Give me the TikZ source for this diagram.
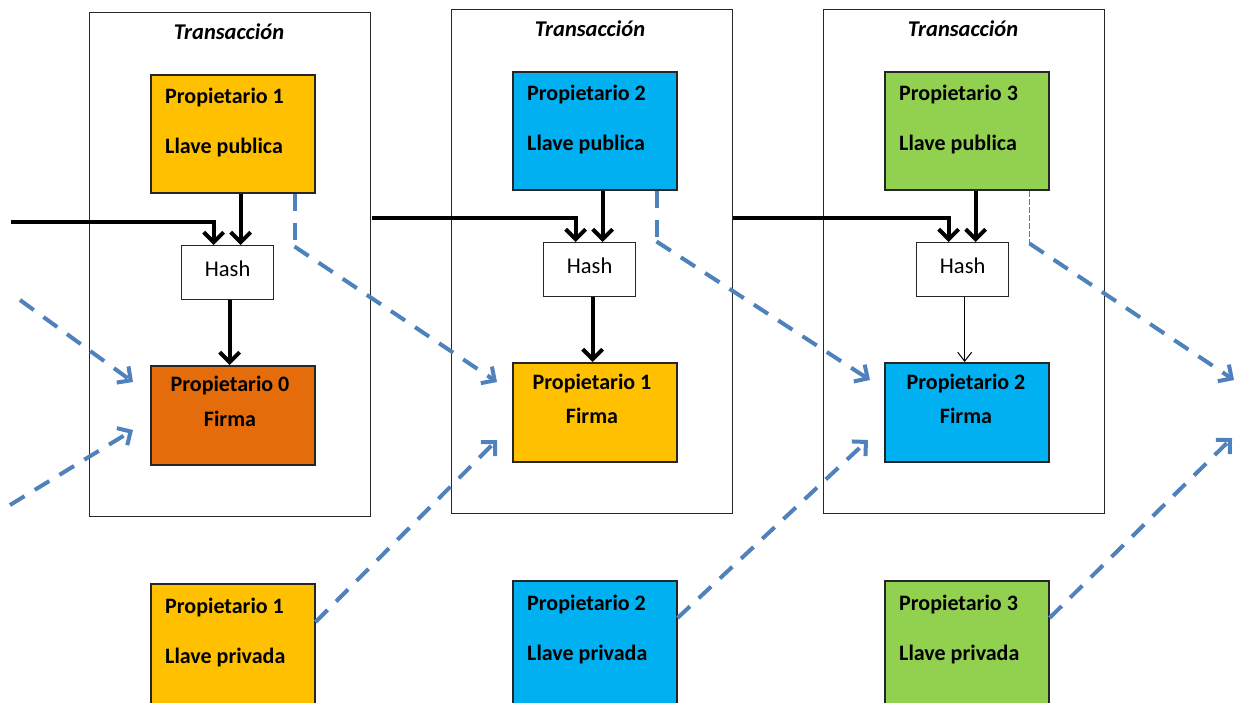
\documentclass[tikz,border=0pt]{standalone}
\usepackage{fontspec}
\setmainfont{Carlito}
\usetikzlibrary{arrows.meta}
\definecolor{cOrange}{HTML}{FFC000}
\definecolor{cBlue}{HTML}{00B0F0}
\definecolor{cGreen}{HTML}{92D050}
\definecolor{cDark}{HTML}{E46C0A}
\definecolor{cDash}{HTML}{4F81BD}
\definecolor{cFrame}{HTML}{262626}
\begin{document}
\begin{tikzpicture}[x=1pt,y=-1pt,
  frame/.style={draw=cFrame,line width=1.3pt,anchor=north west,inner sep=0pt},
  keybox/.style={draw=cFrame,line width=1.5pt,anchor=north west,inner sep=0pt,minimum width=164pt},
  hashbox/.style={draw=cFrame,line width=1.3pt,fill=white,anchor=north west,inner sep=0pt,minimum width=92pt,minimum height=54pt,text height=15pt,text depth=8pt,font=\fontsize{22.5}{24}\selectfont},
  btxt/.style={font=\bfseries\fontsize{22}{24}\selectfont,inner sep=0pt},
  ttl/.style={font=\bfseries\itshape\fontsize{22.5}{24}\selectfont,inner sep=0pt},
  blk/.style={line width=4pt,-{Straight Barb[length=10pt,width=20pt,line width=4pt]}},
  thin/.style={line width=1pt,-{Straight Barb[length=9pt,width=14pt,line width=1pt]}},
  bdash/.style={draw=cDash,line width=4pt,dash pattern=on 17pt off 12pt,-{Straight Barb[length=10pt,width=20pt,line width=4pt]}},
  bline/.style={draw=cDash,line width=4pt,dash pattern=on 17pt off 12pt},
  tdash/.style={draw=cDash,line width=1.8pt,dash pattern=on 6pt off 2pt}]
\useasboundingbox (0,0) rectangle (1238,702);
\clip (0,0) rectangle (1238,702);
\fill[white] (0,0) rectangle (1238,702);
% transaction frames
\node[frame,minimum width=281pt,minimum height=504pt] (t1) at (89,12) {};
\node[frame,minimum width=281pt,minimum height=504pt] (t2) at (451,9) {};
\node[frame,minimum width=281pt,minimum height=504pt] (t3) at (823,9) {};
\node[ttl] (tt1) at (229,32) {Transacción};
\node[ttl] (tt2) at (590,29) {Transacción};
\node[ttl] (tt3) at (963,29) {Transacción};
% public key boxes
\node[keybox,fill=cOrange,minimum height=118pt] (pub1) at (150,74) {};
\node[keybox,fill=cBlue,minimum height=118pt] (pub2) at (512,71) {};
\node[keybox,fill=cGreen,minimum height=118pt] (pub3) at (884,71) {};
\node[btxt,anchor=west] (pub1a) at (165,98) {Propietario 1};
\node[btxt,anchor=west] (pub1b) at (165,148) {Llave publica};
\node[btxt,anchor=west] (pub2a) at (527,95) {Propietario 2};
\node[btxt,anchor=west] (pub2b) at (527,145) {Llave publica};
\node[btxt,anchor=west] (pub3a) at (899,95) {Propietario 3};
\node[btxt,anchor=west] (pub3b) at (899,145) {Llave publica};
% hash boxes
\node[hashbox] (h1) at (181,245) {Hash};
\node[hashbox] (h2) at (543,242) {Hash};
\node[hashbox] (h3) at (916,242) {Hash};
% signature boxes
\node[keybox,fill=cDark,minimum height=99pt] (f1) at (150,365) {};
\node[keybox,fill=cOrange,minimum height=99pt] (f2) at (512,362) {};
\node[keybox,fill=cBlue,minimum height=99pt] (f3) at (884,362) {};
\node[btxt] (f1a) at (230,386) {Propietario 0};
\node[btxt] (f1b) at (230,419) {Firma};
\node[btxt] (f2a) at (592,384) {Propietario 1};
\node[btxt] (f2b) at (592,416) {Firma};
\node[btxt] (f3a) at (966,384) {Propietario 2};
\node[btxt] (f3b) at (966,416) {Firma};
% private key boxes
\node[keybox,fill=cOrange,minimum height=125pt] (pr1) at (150,583) {};
\node[keybox,fill=cBlue,minimum height=125pt] (pr2) at (512,580) {};
\node[keybox,fill=cGreen,minimum height=125pt] (pr3) at (884,580) {};
\node[btxt,anchor=west] (pr1a) at (165,607) {Propietario 1};
\node[btxt,anchor=west] (pr1b) at (165,657) {Llave privada};
\node[btxt,anchor=west] (pr2a) at (527,604) {Propietario 2};
\node[btxt,anchor=west] (pr2b) at (527,654) {Llave privada};
\node[btxt,anchor=west] (pr3a) at (899,604) {Propietario 3};
\node[btxt,anchor=west] (pr3b) at (899,654) {Llave privada};
% free ends
\coordinate (in1) at (11,222);
\coordinate (in2) at (372,218);
\coordinate (in3) at (733,218);
\coordinate (la) at (20,300);
\coordinate (lb) at (10,505);
\coordinate (out1) at (1234,380);
\coordinate (out2) at (1232,438);
% black arrows
\draw[blk] (in1) -| ([xshift=-14pt]h1.north);
\draw[blk] (in2) -| ([xshift=-14pt]h2.north);
\draw[blk] (in3) -| ([xshift=-14pt]h3.north);
\draw[blk] ([xshift=13pt]h1.north |- pub1.south) -- ([xshift=13pt]h1.north);
\draw[blk] ([xshift=13pt]h2.north |- pub2.south) -- ([xshift=13pt]h2.north);
\draw[blk] ([xshift=13pt]h3.north |- pub3.south) -- ([xshift=13pt]h3.north);
\draw[blk] ([xshift=2pt]h1.south) -- ([xshift=2pt]h1.south |- f1.north);
\draw[blk] ([xshift=3pt]h2.south) -- ([xshift=3pt]h2.south |- f2.north);
\draw[thin] ([xshift=2pt]h3.south) -- ([xshift=2pt]h3.south |- f3.north);
% blue dashed arrows
\draw[bdash] (la) -- ([xshift=-17pt,yshift=-17pt]f1.north west);
\draw[bdash] (lb) -- ([xshift=-17pt,yshift=-65pt]f1.north west);
\draw[bline] ([xshift=-21pt]pub1.south east) -- ++(0,53);
\draw[bdash] ([xshift=-21pt,yshift=-53pt]pub1.south east) -- ([xshift=-15pt,yshift=-20pt]f2.north west);
\draw[bline] ([xshift=-21pt]pub2.south east) -- ++(0,51);
\draw[bdash] ([xshift=-21pt,yshift=-51pt]pub2.south east) -- ([xshift=-14pt,yshift=-18pt]f3.north west);
\draw[tdash] ([xshift=-20pt]pub3.south east) -- ++(0,53);
\draw[bdash] ([xshift=-20pt,yshift=-53pt]pub3.south east) -- (out1);
\draw[bdash] ([yshift=-39pt]pr1.north east) -- ([xshift=-15pt,yshift=-78pt]f2.north west);
\draw[bdash] ([yshift=-38pt]pr2.north east) -- ([xshift=-16pt,yshift=-78pt]f3.north west);
\draw[bdash] ([yshift=-38pt]pr3.north east) -- (out2);
\end{tikzpicture}
\end{document}
